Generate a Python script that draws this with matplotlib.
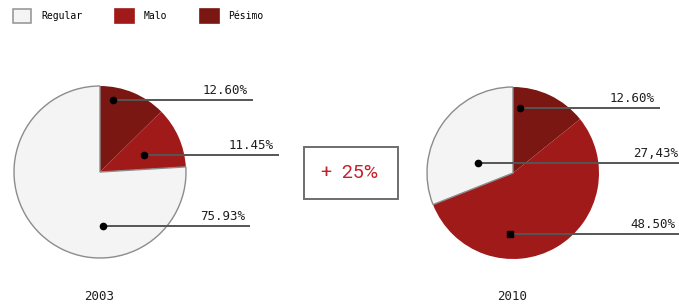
import matplotlib.pyplot as plt
from matplotlib.patches import Patch, Rectangle

# data
categories = ["Pésimo", "Malo", "Regular"]
values_2003 = [12.60, 11.45, 75.93]
values_2010 = [12.60, 48.50, 27.43]
labels_2003 = ["12.60%", "11.45%", "75.93%"]
labels_2010 = ["12.60%", "27,43%", "48.50%"]
years = ["2003", "2010"]
change_text = "+  25%"

colors = {"Pésimo": "#7a1712", "Malo": "#a01a1a", "Regular": "#f4f4f4"}
mono = "DejaVu Sans Mono"

W, H = 679, 304
fig = plt.figure(figsize=(W / 100, H / 100), dpi=100)
ax = fig.add_axes([0, 0, 1, 1])


def draw_pie(values, center):
    wedges, _ = ax.pie(values, colors=[colors[c] for c in categories],
                       startangle=90, counterclock=False, center=center,
                       radius=86, normalize=True)
    for w, c in zip(wedges, categories):
        if c == "Regular":
            w.set_edgecolor("#8c8c8c")
            w.set_linewidth(1.0)
        else:
            w.set_edgecolor("none")


def callout(dot, line_end, text, marker="o", text_right=None):
    x0, y0 = dot
    ax.plot([x0, line_end], [y0, y0], color="#555555", lw=1.4, zorder=3,
            solid_capstyle="butt")
    ax.plot([x0], [y0], marker=marker, color="black", ms=4.5, zorder=4)
    tx = text_right if text_right is not None else line_end - 5
    ax.text(tx, y0 + 3, text, ha="right", va="bottom",
            family=mono, fontsize=9, color="#1e1e1e", zorder=4)


# left pie (2003)
draw_pie(values_2003, (100, H - 172))
callout((113, H - 100), 253, labels_2003[0])
callout((144, H - 155), 279, labels_2003[1])
callout((103, H - 226), 250, labels_2003[2])

# right pie (2010)
draw_pie(values_2010, (513, H - 173))
callout((520, H - 108), 660, labels_2010[0])
callout((478, H - 163), 690, labels_2010[1], text_right=678)
callout((510, H - 234), 680, labels_2010[2], marker="s", text_right=675)

# change box
ax.add_patch(Rectangle((304, H - 199), 94, 52, facecolor="white",
                       edgecolor="#6e6e6e", lw=1.4, zorder=2))
ax.text(350, H - 173, change_text, ha="center", va="center",
        family="Roboto", fontsize=14, color="#c4212b", zorder=3)

# year labels
ax.text(99, H - 297, years[0], ha="center", va="center", family=mono,
        fontsize=9, color="#1e1e1e")
ax.text(512, H - 297, years[1], ha="center", va="center", family=mono,
        fontsize=9, color="#1e1e1e")

# legend
handles = [Patch(facecolor=colors[c], edgecolor="#9a9a9a" if c == "Regular" else colors[c],
                 lw=1.2, label=c) for c in ["Regular", "Malo", "Pésimo"]]
leg = ax.legend(handles=handles, loc="upper left", bbox_to_anchor=(13 / W, 1 - 9 / H),
                ncol=3, frameon=False, handlelength=1.9, handleheight=1.9,
                handletextpad=1.0, columnspacing=3.4, borderpad=0, borderaxespad=0,
                prop={"family": mono, "size": 7})

ax.set_xlim(0, W)
ax.set_ylim(0, H)
ax.set_aspect("auto")
ax.axis("off")

fig.savefig("out.png", dpi=100)
